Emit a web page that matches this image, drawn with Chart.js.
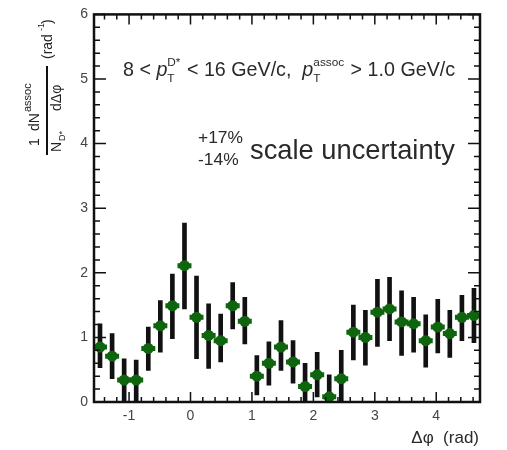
<!DOCTYPE html>
<html><head><meta charset="utf-8">
<script src="https://cdn.jsdelivr.net/npm/chart.js@4/dist/chart.umd.min.js"></script>
<style>html,body{margin:0;padding:0;background:#fff}#wrap{width:507px;height:450px}</style>
</head><body><div id="wrap"><canvas id="c" width="507" height="450"></canvas></div>
<script>
// ---- data ----
const binCenters = [-1.473,-1.276,-1.080,-0.884,-0.687,-0.491,-0.295,-0.098,0.098,0.295,0.491,0.687,0.884,1.080,1.276,1.473,1.669,1.865,2.062,2.258,2.454,2.651,2.847,3.043,3.240,3.436,3.632,3.829,4.025,4.221,4.418,4.614];
const yields     = [0.85,0.71,0.34,0.34,0.83,1.18,1.49,2.11,1.31,1.03,0.95,1.49,1.25,0.40,0.60,0.85,0.62,0.24,0.42,0.08,0.36,1.08,1.00,1.39,1.44,1.24,1.21,0.95,1.16,1.06,1.31,1.34];
const errHigh    = [1.21,1.06,0.67,0.65,1.16,1.57,1.98,2.77,1.95,1.52,1.36,1.85,1.62,0.72,0.93,1.26,0.95,0.60,0.77,0.42,0.80,1.50,1.42,1.90,1.93,1.72,1.62,1.35,1.59,1.42,1.65,1.76];
const errLow     = [0.53,0.36,0.00,0.00,0.49,0.77,0.98,1.44,0.67,0.52,0.62,1.13,0.90,0.11,0.26,0.49,0.29,0.00,0.08,0.00,0.00,0.65,0.57,0.86,0.95,0.72,0.77,0.54,0.76,0.69,0.95,0.92];
const xTickValues = [-1,0,1,2,3,4];
const yTickValues = [0,1,2,3,4,5,6];
const xRange = [-1.5708, 4.7124];
const yRange = [0, 6];
const minorStep = 0.2;

const FONT = '"Liberation Sans", Arial, sans-serif';
const GREEN = '#0e650e';

const errorBars = binCenters.map((x,i)=>({x:x, y:[errLow[i], errHigh[i]]}));
const points = binCenters.map((x,i)=>({x:x, y:yields[i]}));

function f(sz, it){ return (it?'italic ':'') + sz + 'px ' + FONT; }
function measureRich(ctx, segs, fs){
  let w=0;
  for(const s of segs){
    if(s.t!==undefined){ ctx.font=f(fs,s.it); w+=ctx.measureText(s.t).width; }
    else { ctx.font=f(fs*0.6); w+=Math.max(ctx.measureText(s.sup||'').width, ctx.measureText(s.sub||'').width)+1; }
  }
  return w;
}
function drawRich(ctx, segs, x, y, fs){
  for(const s of segs){
    if(s.t!==undefined){ ctx.font=f(fs,s.it); ctx.fillText(s.t,x,y); x+=ctx.measureText(s.t).width; }
    else {
      ctx.font=f(fs*0.6);
      if(s.sup) ctx.fillText(s.sup, x, y-fs*0.5);
      if(s.sub) ctx.fillText(s.sub, x, y+fs*0.3);
      x+=Math.max(ctx.measureText(s.sup||'').width, ctx.measureText(s.sub||'').width)+1;
    }
  }
}
function fitRich(ctx, segs, x, y, fs0, target){
  const w = measureRich(ctx, segs, fs0);
  drawRich(ctx, segs, x, y, fs0*target/w);
}
// rotated text: baseline at screen x = bx, text starting at screen y = sy and running upward
function rotText(ctx, txt, bx, sy, font){
  ctx.save(); ctx.rotate(-Math.PI/2); ctx.font=font; ctx.textAlign='left'; ctx.textBaseline='alphabetic';
  ctx.fillText(txt, -sy, bx); ctx.restore();
}

const decor = {
  id:'decor',
  afterDraw(chart){
    const ctx = chart.ctx, a = chart.chartArea, xs = chart.scales.x, ys = chart.scales.y;
    ctx.save();
    ctx.strokeStyle='#111'; ctx.fillStyle='#222';
    // ticks (inside frame, all four sides)
    ctx.lineWidth=1.5;
    const maj=10, mn=5;
    ctx.beginPath();
    for(let v=Math.ceil(xRange[0]/minorStep)*minorStep; v<=xRange[1]+1e-9; v+=minorStep){
      const isMaj = Math.abs(v-Math.round(v))<1e-6;
      const px = xs.getPixelForValue(v), L = isMaj?maj:mn;
      ctx.moveTo(px,a.bottom); ctx.lineTo(px,a.bottom-L);
      ctx.moveTo(px,a.top); ctx.lineTo(px,a.top+L);
    }
    for(let v=yRange[0]; v<=yRange[1]+1e-9; v+=minorStep){
      const isMaj = Math.abs(v-Math.round(v))<1e-6;
      const py = ys.getPixelForValue(v), L = isMaj?maj+2:mn+1;
      ctx.moveTo(a.left,py); ctx.lineTo(a.left+L,py);
      ctx.moveTo(a.right,py); ctx.lineTo(a.right-L,py);
    }
    ctx.stroke();
    // frame
    ctx.lineWidth=2.5;
    ctx.strokeRect(a.left, a.top, a.right-a.left, a.bottom-a.top);

    // kinematic text
    ctx.textAlign='left'; ctx.textBaseline='alphabetic'; ctx.fillStyle='#2a2a2a';
    fitRich(ctx, [{t:'8 < '},{t:'p',it:true},{sup:'D*',sub:'T'},{t:' < 16 GeV/c,  '},{t:'p',it:true},{sup:'assoc',sub:'T'},{t:' > 1.0 GeV/c'}], 123, 76, 15, 333);
    // scale uncertainty
    ctx.font=f(14); let w=ctx.measureText('+17%').width; ctx.font=f(14*45/w);
    ctx.fillText('+17%', 198, 143);
    ctx.fillText('-14%', 198, 165);
    ctx.font=f(26); w=ctx.measureText('scale uncertainty').width; ctx.font=f(26*205/w);
    ctx.fillText('scale uncertainty', 250, 159);

    // x-axis title
    ctx.font=f(17); ctx.textAlign='right';
    ctx.fillText('\u0394\u03c6  (rad)', 479, 443);

    // y-axis title (two stacked fractions, rotated)
    ctx.fillStyle='#222';
    rotText(ctx,'1',39,146,f(14));
    rotText(ctx,'dN',39,131,f(14));
    rotText(ctx,'assoc',31,112,f(11));
    rotText(ctx,'N',61,152,f(14));
    rotText(ctx,'D*',65,141,f(9));
    rotText(ctx,'d\u0394\u03c6',61,111,f(14));
    rotText(ctx,'(rad',52,59,f(14));
    rotText(ctx,'-1',44,31,f(9));
    rotText(ctx,')',52,24,f(14));
    ctx.lineWidth=2; ctx.strokeStyle='#111';
    ctx.beginPath(); ctx.moveTo(47,66); ctx.lineTo(47,155); ctx.stroke();
    ctx.restore();
  }
};

const tickFont = {family: FONT, size: 14};
new Chart(document.getElementById('c'), {
  type:'scatter',
  data:{ datasets:[
    {type:'bar', data:errorBars, backgroundColor:'#111', borderWidth:0, barThickness:4, order:3, grouped:false},
    {type:'scatter', data:points, pointStyle:'line', radius:7, borderWidth:5, borderColor:GREEN, backgroundColor:GREEN, order:2},
    {type:'scatter', data:points, pointStyle:'circle', radius:5.5, borderWidth:0, backgroundColor:GREEN, order:1}
  ]},
  options:{
    responsive:false, animation:false, devicePixelRatio:1,
    layout:{padding:{left:0, right:27, top:13, bottom:0}},
    plugins:{legend:{display:false}, tooltip:{enabled:false}},
    scales:{
      x:{type:'linear', min:xRange[0], max:xRange[1], offset:false,
         grid:{display:false, drawTicks:false}, border:{display:false},
         afterBuildTicks:(s)=>{ s.ticks = xTickValues.map(v=>({value:v})); },
         afterFit:(s)=>{ s.height = 48; },
         ticks:{font:tickFont, color:'#444', padding:6, maxRotation:0, autoSkip:false, callback:(v)=>String(v)}},
      y:{type:'linear', min:yRange[0], max:yRange[1],
         grid:{display:false, drawTicks:false}, border:{display:false},
         afterBuildTicks:(s)=>{ s.ticks = yTickValues.map(v=>({value:v})); },
         afterFit:(s)=>{ s.width = 94; },
         ticks:{font:tickFont, color:'#444', padding:6, autoSkip:false, callback:(v)=>String(v)}}
    }
  },
  plugins:[decor]
});
</script></body></html>
